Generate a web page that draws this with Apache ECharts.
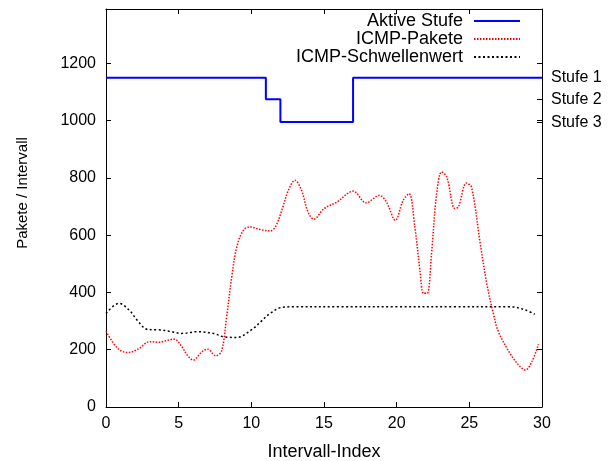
<!DOCTYPE html>
<html lang="de">
<head>
    <meta charset="UTF-8">
    <title>ICMP-Pakete / Stufen</title>
    <script src="https://cdn.jsdelivr.net/npm/echarts@6/dist/echarts.min.js"></script>
    <style>
        html, body { margin: 0; padding: 0; background: #fff; }
        #main { width: 611px; height: 461px; }
    </style>
</head>
<body>
<div id="main"></div>
<script>
    // Stufen (rechte Achse)
    const stufeNames = ['Stufe 1', 'Stufe 2', 'Stufe 3'];
    const stufeValues = [1150, 1075, 995];

    // aktive Stufe je Intervall 0..30
    const stufeIndex = [0, 1, 2, 3, 4, 5, 6, 7, 8, 9, 10, 11, 12, 13, 14, 15, 16, 17, 18, 19, 20, 21, 22, 23, 24, 25, 26, 27, 28, 29, 30];
    const stufeLevel = [1, 1, 1, 1, 1, 1, 1, 1, 1, 1, 1, 2, 3, 3, 3, 3, 3, 1, 1, 1, 1, 1, 1, 1, 1, 1, 1, 1, 1, 1, 1];

    // ICMP-Pakete
    const icmpX = [0, 0.8, 1.5, 2.2, 3, 3.7, 4.1, 4.7, 5.15, 5.6, 6, 6.6, 7, 7.55, 7.95, 8.3, 8.65, 9, 9.45, 9.9,
        10.6, 11.3, 11.65, 12.1, 12.55, 13, 13.45, 13.9, 14.3, 15, 15.9, 16.6, 17, 17.9, 18.8, 19.3, 19.9,
        20.45, 20.85, 21.25, 21.6, 21.85, 22.1, 22.4, 22.75, 23.1, 23.45, 24, 24.25, 24.8, 25.15, 25.75,
        26.2, 26.65, 27, 27.8, 28.4, 28.85, 29.3, 29.75];
    const icmpY = [265, 205, 190, 202, 228, 226, 231, 237, 216, 181, 164, 193, 202, 179, 195, 315, 454, 559, 617, 629,
        620, 615, 629, 687, 757, 792, 757, 681, 656, 693, 716, 745, 754, 713, 739, 716, 652,
        722, 745, 629, 478, 397, 397, 536, 745, 821, 803, 693, 699, 782, 768, 571,
        431, 327, 263, 187, 146, 129, 158, 219];

    // ICMP-Schwellenwert
    const schwelleX = [0, 0.9, 1.6, 2.15, 2.85, 3.8, 4.5, 5.2, 6.3, 7.4, 8.1, 9, 10, 10.65, 11.3, 12.1, 13, 16, 20, 24, 27.8, 28.8, 29.5];
    const schwelleY = [327, 362, 338, 303, 271, 269, 263, 257, 263, 257, 245, 243, 269, 298, 327, 348, 350, 350, 350, 350, 350, 340, 324];

    const font = 'Liberation Sans, Arial, sans-serif';

    const chart = echarts.init(document.getElementById('main'));

    const zip = (xs, ys) => xs.map((x, i) => [x, ys[i]]);
    const stufeData = stufeIndex.map((x, i) => [x, stufeValues[stufeLevel[i] - 1]]);

    const legendBase = {
        orient: 'horizontal',
        align: 'right',
        right: 90,
        padding: 0,
        itemWidth: 46,
        itemHeight: 14,
        itemGap: 0,
        itemStyle: { opacity: 0 },
        textStyle: { fontFamily: font, fontSize: 18, color: '#000', padding: [0, 6, 0, 0] }
    };

    const line = { onZero: false, lineStyle: { color: '#000', width: 1 } };
    const tick = { show: true, inside: true, length: 5, lineStyle: { color: '#000' } };

    const option = {
        animation: false,
        backgroundColor: '#fff',
        grid: { left: 106, right: 69, top: 9, bottom: 54, outerBoundsMode: 'none', containLabel: false },
        legend: [
            Object.assign({}, legendBase, { top: 12, data: ['Aktive Stufe'] }),
            Object.assign({}, legendBase, { top: 30, data: ['ICMP-Pakete'] }),
            Object.assign({}, legendBase, { top: 48, data: ['ICMP-Schwellenwert'] })
        ],
        xAxis: [{
            type: 'value',
            min: 0, max: 30, interval: 5,
            name: 'Intervall-Index',
            nameLocation: 'middle',
            nameGap: 36,
            nameTextStyle: { fontFamily: font, fontSize: 18, color: '#000' },
            axisLine: line,
            axisTick: tick,
            axisLabel: { fontFamily: font, fontSize: 16, color: '#000', margin: 9 },
            splitLine: { show: false }
        }, {
            type: 'value',
            position: 'top',
            min: 0, max: 30, interval: 5,
            axisLine: line,
            axisTick: tick,
            axisLabel: { show: false },
            splitLine: { show: false }
        }],
        yAxis: [{
            type: 'value',
            min: 0, max: 1390, interval: 200,
            name: 'Pakete / Intervall',
            nameLocation: 'middle',
            nameGap: 76,
            nameTextStyle: { fontFamily: font, fontSize: 15, color: '#000', padding: [0, 0, 0, 30] },
            axisLine: Object.assign({ show: true }, line),
            axisTick: tick,
            axisLabel: { fontFamily: font, fontSize: 16, color: '#000', margin: 10, showMaxLabel: false, formatter: v => String(v) },
            splitLine: { show: false }
        }, {
            type: 'value',
            position: 'right',
            min: 0, max: 1390, interval: 200,
            axisLine: Object.assign({ show: true }, line),
            axisTick: tick,
            axisLabel: { show: false },
            splitLine: { show: false }
        }, {
            type: 'value',
            position: 'right',
            min: 0, max: 1390,
            axisLine: { show: false, onZero: false },
            axisTick: Object.assign({}, tick, { customValues: stufeValues }),
            axisLabel: {
                fontFamily: font, fontSize: 16, color: '#000', margin: 9,
                customValues: stufeValues,
                formatter: v => stufeNames[stufeValues.indexOf(v)] || ''
            },
            splitLine: { show: false }
        }],
        series: [{
            name: 'Aktive Stufe',
            type: 'line',
            step: 'end',
            symbol: 'none',
            data: stufeData,
            color: '#0000ff',
            lineStyle: { color: '#0000ff', width: 2 },
            z: 3
        }, {
            name: 'ICMP-Pakete',
            type: 'line',
            smooth: 0.35,
            symbol: 'none',
            data: zip(icmpX, icmpY),
            color: '#ff0000',
            lineStyle: { color: '#ff0000', width: 1.5, type: [1.5, 1.5] },
            z: 2
        }, {
            name: 'ICMP-Schwellenwert',
            type: 'line',
            smooth: 0.35,
            symbol: 'none',
            data: zip(schwelleX, schwelleY),
            color: '#000',
            lineStyle: { color: '#000', width: 1.5, type: [2, 2.5] },
            z: 1
        }]
    };

    chart.setOption(option);
</script>
</body>
</html>
